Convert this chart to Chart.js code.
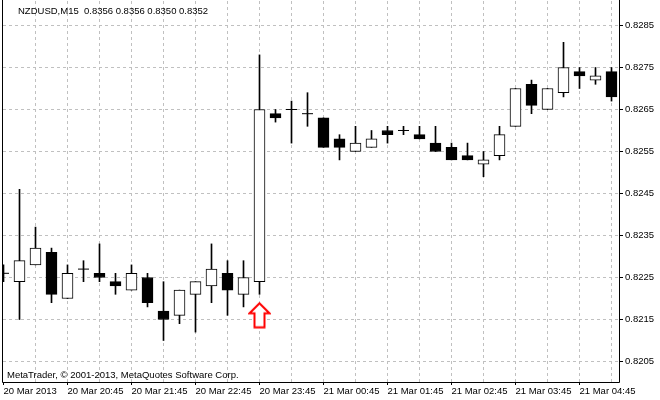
<!DOCTYPE html>
<html lang="en">

<head>
    <meta charset="UTF-8">
    <title>NZDUSD M15</title>
    <style>
        body {
            margin: 0;
            background: #fff;
        }

        canvas {
            display: block;
        }
    </style>
</head>

<body>
    <canvas id="myCanvas" width="660" height="400"></canvas>
    <script src="https://cdn.jsdelivr.net/npm/chart.js@4.4.1/dist/chart.umd.min.js"></script>
    <script>
        // 15 minute bars, 20 Mar 2013 19:45 -> 21 Mar 2013 05:15
        const open = [0.8226, 0.8224, 0.8228, 0.8231, 0.8220, 0.8227, 0.8226, 0.8224, 0.8222, 0.8225,
            0.8217, 0.8216, 0.8221, 0.8223, 0.8226, 0.8221, 0.8224, 0.8264, 0.8265, 0.8264,
            0.8263, 0.8258, 0.8255, 0.8256, 0.8260, 0.8260, 0.8259, 0.8257, 0.8256, 0.8254,
            0.8252, 0.8254, 0.8261, 0.8271, 0.8265, 0.8269, 0.8274, 0.8272, 0.8274];
        const high = [0.8228, 0.8246, 0.8237, 0.8232, 0.8228, 0.8229, 0.8233, 0.8226, 0.8228, 0.8226,
            0.8224, 0.8222, 0.8224, 0.8233, 0.8229, 0.8229, 0.8278, 0.8265, 0.8267, 0.8269,
            0.8263, 0.8259, 0.8261, 0.8260, 0.8261, 0.8261, 0.8261, 0.8261, 0.8257, 0.8257,
            0.8255, 0.8261, 0.8270, 0.8272, 0.8270, 0.8281, 0.8275, 0.8275, 0.8275];
        const low = [0.8224, 0.8215, 0.8228, 0.8219, 0.8220, 0.8224, 0.8224, 0.8221, 0.8222, 0.8218,
            0.8210, 0.8214, 0.8212, 0.8219, 0.8216, 0.8218, 0.8221, 0.8262, 0.8257, 0.8261,
            0.8256, 0.8253, 0.8255, 0.8256, 0.8257, 0.8259, 0.8258, 0.8255, 0.8253, 0.8253,
            0.8249, 0.8253, 0.8261, 0.8264, 0.8265, 0.8268, 0.8270, 0.8271, 0.8267];
        const close = [0.8226, 0.8229, 0.8232, 0.8221, 0.8226, 0.8227, 0.8225, 0.8223, 0.8226, 0.8219,
            0.8215, 0.8222, 0.8224, 0.8227, 0.8222, 0.8225, 0.8265, 0.8263, 0.8265, 0.8264,
            0.8256, 0.8256, 0.8257, 0.8258, 0.8259, 0.8260, 0.8258, 0.8255, 0.8253, 0.8253,
            0.8253, 0.8259, 0.8270, 0.8266, 0.8270, 0.8275, 0.8273, 0.8273, 0.8268];

        // one label every 4 bars (1 hour)
        const timeLabels = ['20 Mar 2013', '20 Mar 20:45', '20 Mar 21:45', '20 Mar 22:45', '20 Mar 23:45',
            '21 Mar 00:45', '21 Mar 01:45', '21 Mar 02:45', '21 Mar 03:45', '21 Mar 04:45'];
        const priceTicks = [0.8205, 0.8215, 0.8225, 0.8235, 0.8245, 0.8255, 0.8265, 0.8275, 0.8285];

        // buy arrow under the big bar
        const arrowBar = 16;
        const arrowPrice = 0.8216;

        const titleText = 'NZDUSD,M15  0.8356 0.8356 0.8350 0.8352';
        const copyText = 'MetaTrader, \u00a9 2001-2013, MetaQuotes Software Corp.';

        const FONT = '"Liberation Sans", Arial, sans-serif';

        const idx = open.map((v, i) => i);
        const wicks = idx.map(i => ({ x: i, y: [low[i], high[i]] }));
        const bodies = idx.filter(i => open[i] !== close[i]).map(i => ({ x: i, y: [open[i], close[i]] }));
        const dojis = idx.filter(i => open[i] === close[i]).map(i => ({ x: i, y: close[i] }));

        function makeArrow() {
            const c = document.createElement('canvas');
            c.width = 23;
            c.height = 27;
            const g = c.getContext('2d');
            g.beginPath();
            g.moveTo(11.5, 1.5);
            g.lineTo(21.5, 11.5);
            g.lineTo(16.5, 11.5);
            g.lineTo(16.5, 25.5);
            g.lineTo(6.5, 25.5);
            g.lineTo(6.5, 11.5);
            g.lineTo(1.5, 11.5);
            g.closePath();
            g.fillStyle = '#fff';
            g.fill();
            g.strokeStyle = '#ff0000';
            g.lineWidth = 2;
            g.stroke();
            return c;
        }

        // no extra room for labels, the plot area is fixed
        function noPad(s) {
            s.paddingLeft = 0;
            s.paddingRight = 0;
            s.paddingTop = 0;
            s.paddingBottom = 0;
        }

        // frame + the two text lines MetaTrader puts on the chart
        const frame = {
            id: 'frame',
            afterDraw(chart) {
                const { ctx, chartArea: a } = chart;
                ctx.save();
                ctx.strokeStyle = '#000';
                ctx.lineWidth = 1;
                ctx.beginPath();
                ctx.moveTo(a.left - 0.5, 0);
                ctx.lineTo(a.left - 0.5, a.bottom + 0.5);
                ctx.lineTo(a.right + 0.5, a.bottom + 0.5);
                ctx.lineTo(a.right + 0.5, 0);
                ctx.stroke();
                ctx.fillStyle = '#000';
                ctx.font = '9.5px ' + FONT;
                ctx.textBaseline = 'middle';
                ctx.fillText(titleText, 18, 11);
                ctx.fillText(copyText, 7, 375);
                ctx.restore();
            }
        };

        new Chart(document.getElementById('myCanvas'), {
            type: 'bar',
            data: {
                datasets: [{
                    data: wicks,
                    backgroundColor: '#000',
                    barThickness: 1,
                    grouped: false,
                    order: 3
                }, {
                    data: bodies,
                    backgroundColor: ctx => ctx.raw.y[1] > ctx.raw.y[0] ? '#fff' : '#000',
                    borderColor: '#000',
                    borderWidth: 1,
                    borderSkipped: false,
                    barThickness: 11,
                    grouped: false,
                    order: 2
                }, {
                    type: 'scatter',
                    data: dojis,
                    pointStyle: 'line',
                    pointRadius: 5.5,
                    borderColor: '#000',
                    borderWidth: 1,
                    order: 1
                }, {
                    type: 'scatter',
                    data: [{ x: arrowBar, y: arrowPrice }],
                    pointStyle: makeArrow(),
                    clip: false,
                    order: 0
                }]
            },
            options: {
                responsive: false,
                animation: false,
                layout: { autoPadding: false, padding: { left: 3, top: 1, right: 0, bottom: 0 } },
                plugins: {
                    legend: { display: false },
                    tooltip: { enabled: false }
                },
                scales: {
                    x: {
                        type: 'linear',
                        min: -0.03125,
                        max: 38.46875,
                        offset: false,
                        afterBuildTicks: s => {
                            s.ticks = idx.filter(i => i % 2 === 0).map(i => ({ value: i }));
                        },
                        afterFit: s => {
                            s.height = 18;
                            noPad(s);
                        },
                        grid: {
                            offset: false,
                            color: c => c.tick && c.tick.value === 0 ? 'rgba(0,0,0,0)' : '#c0c0c0',
                            tickColor: c => c.tick && c.tick.value % 4 === 0 ? '#000' : 'rgba(0,0,0,0)',
                            tickLength: 3
                        },
                        border: { display: false, dash: [3, 3] },
                        ticks: {
                            autoSkip: false,
                            maxRotation: 0,
                            minRotation: 0,
                            align: 'start',
                            padding: 1,
                            color: '#000',
                            font: { family: FONT, size: 9.5 },
                            callback: v => v % 4 === 0 ? timeLabels[v / 4] : ''
                        }
                    },
                    y: {
                        position: 'right',
                        min: 0.8200119,
                        max: 0.8290833,
                        afterBuildTicks: s => {
                            s.ticks = priceTicks.map(v => ({ value: v }));
                        },
                        afterFit: s => {
                            s.width = 41;
                            noPad(s);
                        },
                        grid: {
                            color: '#c0c0c0',
                            tickColor: '#000',
                            tickLength: 4
                        },
                        border: { display: false, dash: [3, 3] },
                        ticks: {
                            padding: 2,
                            color: '#000',
                            font: { family: FONT, size: 9.5 },
                            callback: v => v.toFixed(4)
                        }
                    }
                }
            },
            plugins: [frame]
        });
    </script>
</body>

</html>
